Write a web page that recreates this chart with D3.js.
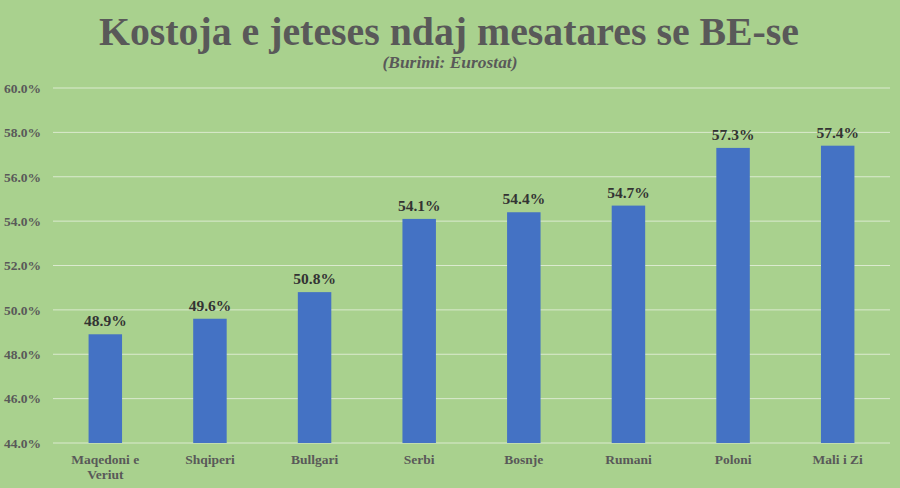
<!DOCTYPE html>
<html><head><meta charset="utf-8">
<script src="https://cdn.jsdelivr.net/npm/d3@7"></script>
<style>html,body{margin:0;padding:0;background:#a9d18e;}svg{display:block;}</style>
</head><body>
<script>
const categories = [["Maqedoni e","Veriut"],["Shqiperi"],["Bullgari"],["Serbi"],["Bosnje"],["Rumani"],["Poloni"],["Mali i Zi"]];
const values = [48.9, 49.6, 50.8, 54.1, 54.4, 54.7, 57.3, 57.4];
const yTicks = [44, 46, 48, 50, 52, 54, 56, 58, 60];
const title = "Kostoja e jeteses ndaj mesatares se BE-se";
const subtitle = "(Burimi: Eurostat)";

const W = 900, H = 488;
const m = {left: 53, right: 10, top: 88, bottom: 45};
const font = "'Liberation Serif','Times New Roman',serif";

const svg = d3.select("body").append("svg").attr("width", W).attr("height", H);
svg.append("rect").attr("width", W).attr("height", H).attr("fill", "#a9d18e");

const x = d3.scaleBand().domain(d3.range(values.length)).range([m.left, W - m.right]).paddingInner(0.68).paddingOuter(0.34);
const y = d3.scaleLinear().domain([44, 60]).range([H - m.bottom, m.top]);

// gridlines
svg.append("g").selectAll("line").data(yTicks).join("line")
  .attr("x1", m.left).attr("x2", W - m.right)
  .attr("y1", d => y(d)).attr("y2", d => y(d))
  .attr("stroke", "#dbeacf").attr("stroke-width", 1);

// y axis labels
const yAxis = d3.axisLeft(y).tickValues(yTicks).tickSize(0).tickPadding(12).tickFormat(d => d.toFixed(1) + "%");
const ga = svg.append("g").attr("transform", `translate(${m.left},0)`).call(yAxis);
ga.select(".domain").remove();
ga.selectAll("text").attr("font-family", font).attr("font-weight", "bold").attr("font-size", 13.5).attr("fill", "#595959");

// bars
svg.append("g").selectAll("rect").data(values).join("rect")
  .attr("x", (d, i) => x(i)).attr("width", x.bandwidth())
  .attr("y", d => y(d)).attr("height", d => y(44) - y(d))
  .attr("fill", "#4472c4");

// value labels
svg.append("g").selectAll("text").data(values).join("text")
  .attr("x", (d, i) => x(i) + x.bandwidth() / 2).attr("y", d => y(d) - 8)
  .attr("text-anchor", "middle").attr("font-family", font).attr("font-weight", "bold")
  .attr("font-size", 15.5).attr("fill", "#333333").text(d => d.toFixed(1) + "%");

// category labels
const cg = svg.append("g").selectAll("text").data(categories).join("text")
  .attr("text-anchor", "middle").attr("font-family", font).attr("font-weight", "bold")
  .attr("font-size", 13.5).attr("fill", "#595959");
cg.each(function(d, i) {
  const t = d3.select(this);
  d.forEach((line, j) => {
    t.append("tspan").attr("x", x(i) + x.bandwidth() / 2).attr("y", 464 + j * 15).text(line);
  });
});

// title
svg.append("text").attr("x", 449).attr("y", 45).attr("text-anchor", "middle")
  .attr("font-family", font).attr("font-weight", "bold").attr("font-size", 41)
  .attr("fill", "#595959").attr("textLength", 700).attr("lengthAdjust", "spacingAndGlyphs").text(title);
svg.append("text").attr("x", 450).attr("y", 68).attr("text-anchor", "middle")
  .attr("font-family", font).attr("font-weight", "bold").attr("font-style", "italic").attr("font-size", 16)
  .attr("fill", "#595959").attr("textLength", 135).attr("lengthAdjust", "spacingAndGlyphs").text(subtitle);
</script>
</body></html>
